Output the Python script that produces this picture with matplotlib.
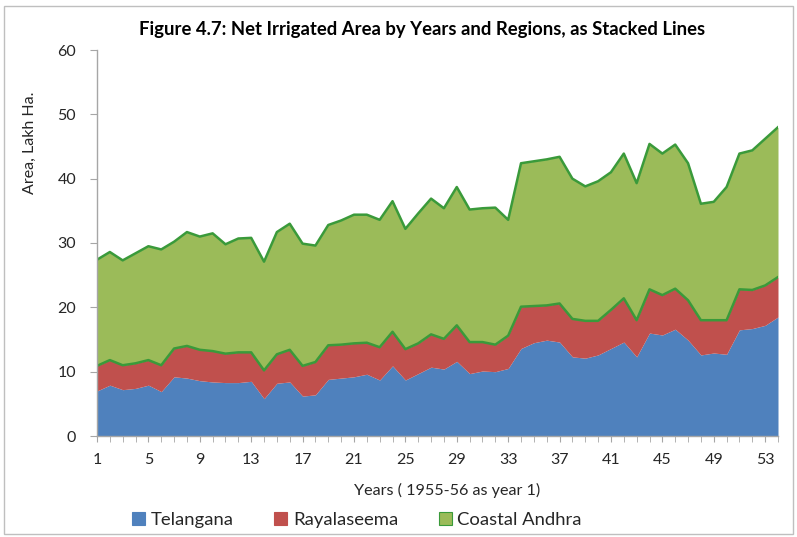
import numpy as np
import matplotlib
matplotlib.use("Agg")
import matplotlib.pyplot as plt
from matplotlib.patches import Rectangle, Patch

plt.rcParams['font.family'] = ['Lato', 'DejaVu Sans']

# years, 1955-56 as year 1
years = list(range(1, 55))

telangana = [7.0, 7.9, 7.2, 7.4, 7.9, 6.9, 9.2, 9.0, 8.6, 8.4,
             8.3, 8.3, 8.5, 5.8, 8.2, 8.4, 6.2, 6.4, 8.8, 9.0,
             9.2, 9.6, 8.7, 10.9, 8.7, 9.7, 10.7, 10.4, 11.6, 9.7,
             10.1, 10.0, 10.5, 13.6, 14.5, 14.9, 14.6, 12.3, 12.1, 12.6,
             13.6, 14.6, 12.3, 16.0, 15.7, 16.6, 14.9, 12.6, 12.9, 12.7,
             16.5, 16.7, 17.2, 18.5]

rayalaseema = [3.9, 3.9, 3.8, 3.9, 3.9, 4.1, 4.4, 5.0, 4.8, 4.8,
               4.5, 4.7, 4.5, 4.4, 4.5, 5.0, 4.7, 5.1, 5.3, 5.2,
               5.2, 4.9, 5.1, 5.3, 4.8, 4.7, 5.1, 4.7, 5.6, 4.9,
               4.5, 4.2, 5.1, 6.5, 5.7, 5.4, 6.0, 5.9, 5.8, 5.3,
               6.0, 6.8, 5.7, 6.8, 6.2, 6.3, 6.2, 5.4, 5.1, 5.3,
               6.3, 6.0, 6.2, 6.2]

coastal = [16.5, 16.8, 16.3, 17.1, 17.7, 18.0, 16.6, 17.7, 17.6, 18.3,
           17.0, 17.7, 17.8, 16.9, 19.0, 19.6, 19.0, 18.1, 18.7, 19.3,
           20.0, 19.9, 19.8, 20.3, 18.7, 20.2, 21.1, 20.3, 21.5, 20.6,
           20.8, 21.3, 18.0, 22.3, 22.5, 22.7, 22.8, 21.8, 20.9, 21.7,
           21.4, 22.5, 21.3, 22.6, 22.0, 22.4, 21.3, 18.1, 18.4, 20.7,
           21.1, 21.7, 22.8, 23.3]

labels = ["Telangana", "Rayalaseema", "Coastal Andhra"]
colors = ["#4F81BD", "#C0504D", "#9BBB59"]
edge_green = "#3A9A3A"
axis_gray = "#A6A6A6"
text_col = "#262626"

fig = plt.figure(figsize=(7.97, 5.37), dpi=100)
ax = fig.add_axes([97/797, 1 - 436/537, (778 - 97)/797, (436 - 50)/537])

x = np.array(years)
t = np.array(telangana)
r = t + np.array(rayalaseema)
c = r + np.array(coastal)

ax.fill_between(x, 0, t, color=colors[0], lw=0)
ax.fill_between(x, t, r, color=colors[1], lw=0)
ax.fill_between(x, r, c, color=colors[2], lw=0)
ax.plot(x, r, color=edge_green, lw=1.8)
ax.plot(x, c, color=edge_green, lw=1.8)

ax.set_xlim(1, 54)
ax.set_ylim(0, 60)
ax.set_xticks(range(1, 55, 4))
ax.set_xticks(range(1, 55), minor=True)
ax.set_yticks(range(0, 61, 10))

for s in ["top", "right"]:
    ax.spines[s].set_visible(False)
for s in ["left", "bottom"]:
    ax.spines[s].set_color(axis_gray)
    ax.spines[s].set_linewidth(1.0)

ax.tick_params(axis="both", which="both", colors=axis_gray, direction="out")
ax.tick_params(axis="x", which="major", length=4, pad=8)
ax.tick_params(axis="x", which="minor", length=4)
ax.tick_params(axis="y", length=5, pad=10)
for lab in ax.get_xticklabels() + ax.get_yticklabels():
    lab.set_color(text_col)
    lab.set_fontsize(11.5)

fig.text(0.529, 1 - 30/537, "Figure 4.7: Net Irrigated Area by Years and Regions, as Stacked Lines",
         ha="center", va="center", fontsize=13.3, fontweight="bold", color="black")
fig.text(30/797, 1 - 143/537, "Area, Lakh Ha.", rotation=90, ha="center", va="center",
         fontsize=11.5, color=text_col)
fig.text(447/797, 1 - 490/537, "Years ( 1955-56 as year 1)", ha="center", va="center",
         fontsize=11.6, color=text_col)

handles = [Patch(facecolor=colors[i], edgecolor=(edge_green if i == 2 else colors[i]), lw=0.8)
           for i in range(3)]
fig.legend(handles, labels, loc="center", bbox_to_anchor=(357/797, 1 - 520/537), ncol=3,
           frameon=False, fontsize=13.3, handlelength=0.7, handleheight=0.7,
           handletextpad=0.3, columnspacing=2.2, labelcolor=text_col)

fig.patches.append(Rectangle((4/797, 3/537), 789/797, 528/537, transform=fig.transFigure,
                             fill=False, edgecolor="#BFBFBF", lw=1.0))

fig.savefig("out.png", dpi=100)
